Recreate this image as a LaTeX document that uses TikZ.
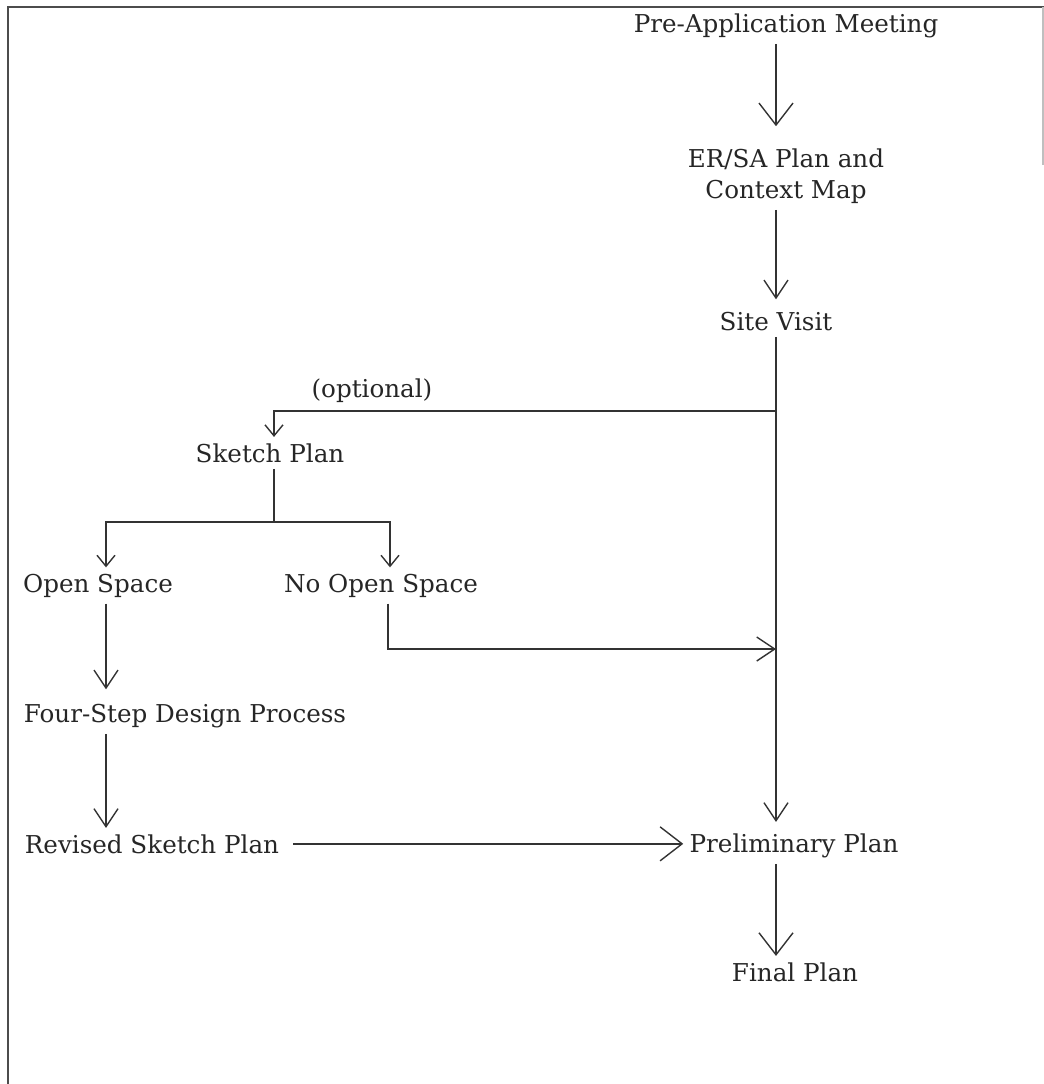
\documentclass[tikz,border=0pt]{standalone}
\usepackage{fontspec}
\setmainfont{DejaVu Serif}
\usetikzlibrary{arrows.meta}

\begin{document}
\begin{tikzpicture}[
    x=0.5pt, y=-0.5pt,
    every node/.style={inner sep=3pt, font=\fontsize{12.3}{15.5}\selectfont, text=black!85},
    line/.style={line width=0.7pt, draw=black!80},
    flow/.style={line, -{Straight Barb[length=9pt, width=12pt]}},
    bigflow/.style={line, -{Straight Barb[length=11pt, width=17pt]}},
    smallflow/.style={line, -{Straight Barb[length=5.5pt, width=9pt]}}
]

\useasboundingbox (0,0) rectangle (1044,1084);

% page frame
\draw[line width=1pt, black!70] (8,1084) -- (8,7) -- (1044,7);
\draw[line width=0.6pt, black!25] (1043,7) -- (1043,165);

\node[anchor=base] (pre) at (786,32) {Pre-Application Meeting};
\node[align=center] (ersa) at (786,176) {ER/SA Plan and\\Context Map};
\node[anchor=base] (site) at (776,330) {Site Visit};
\node[anchor=base] (opt) at (372,397) {(optional)};
\node[anchor=base] (sketch) at (270,462) {Sketch Plan};
\node[anchor=base] (open) at (98,592) {Open Space};
\node[anchor=base] (noopen) at (381,592) {No Open Space};
\node[anchor=base] (four) at (185,722) {Four-Step Design Process};
\node[anchor=base] (revised) at (152,853) {Revised Sketch Plan};
\node[anchor=base] (prelim) at (794,852) {Preliminary Plan};
\node[anchor=base] (final) at (795,981) {Final Plan};

\coordinate (split) at (776,411);
\coordinate (branch) at (274,522);
\coordinate (join) at (776,649);

% main column
\draw[bigflow, shorten >=8pt] (pre.south -| site) -- (ersa.north -| site);
\draw[flow, shorten >=3pt] (ersa.south -| site) -- (site.north);
\draw[flow, shorten >=2.5pt] (site.south) -- (prelim.north -| site);
\draw[bigflow] (prelim.south -| site) -- (final.north -| site);

% optional branch
\draw[smallflow] (split) -| ([xshift=2pt]sketch.north);
\draw[line] ([xshift=2pt]sketch.south) -- (branch);
\draw[smallflow] (branch) -| ([xshift=4pt]open.north);
\draw[smallflow] (branch) -| ([xshift=4.5pt]noopen.north);
\draw[flow] ([xshift=3.5pt]noopen.south) |- (join);
\draw[flow, shorten >=4pt] ([xshift=4pt]open.south) -- ([xshift=4pt]open.south |- four.north);
\draw[flow] ([xshift=4pt]open.south |- four.south) -- ([xshift=4pt]open.south |- revised.north);
\draw[bigflow, shorten <=4pt] (revised.east) -- (revised.east -| prelim.west);

\end{tikzpicture}
\end{document}
